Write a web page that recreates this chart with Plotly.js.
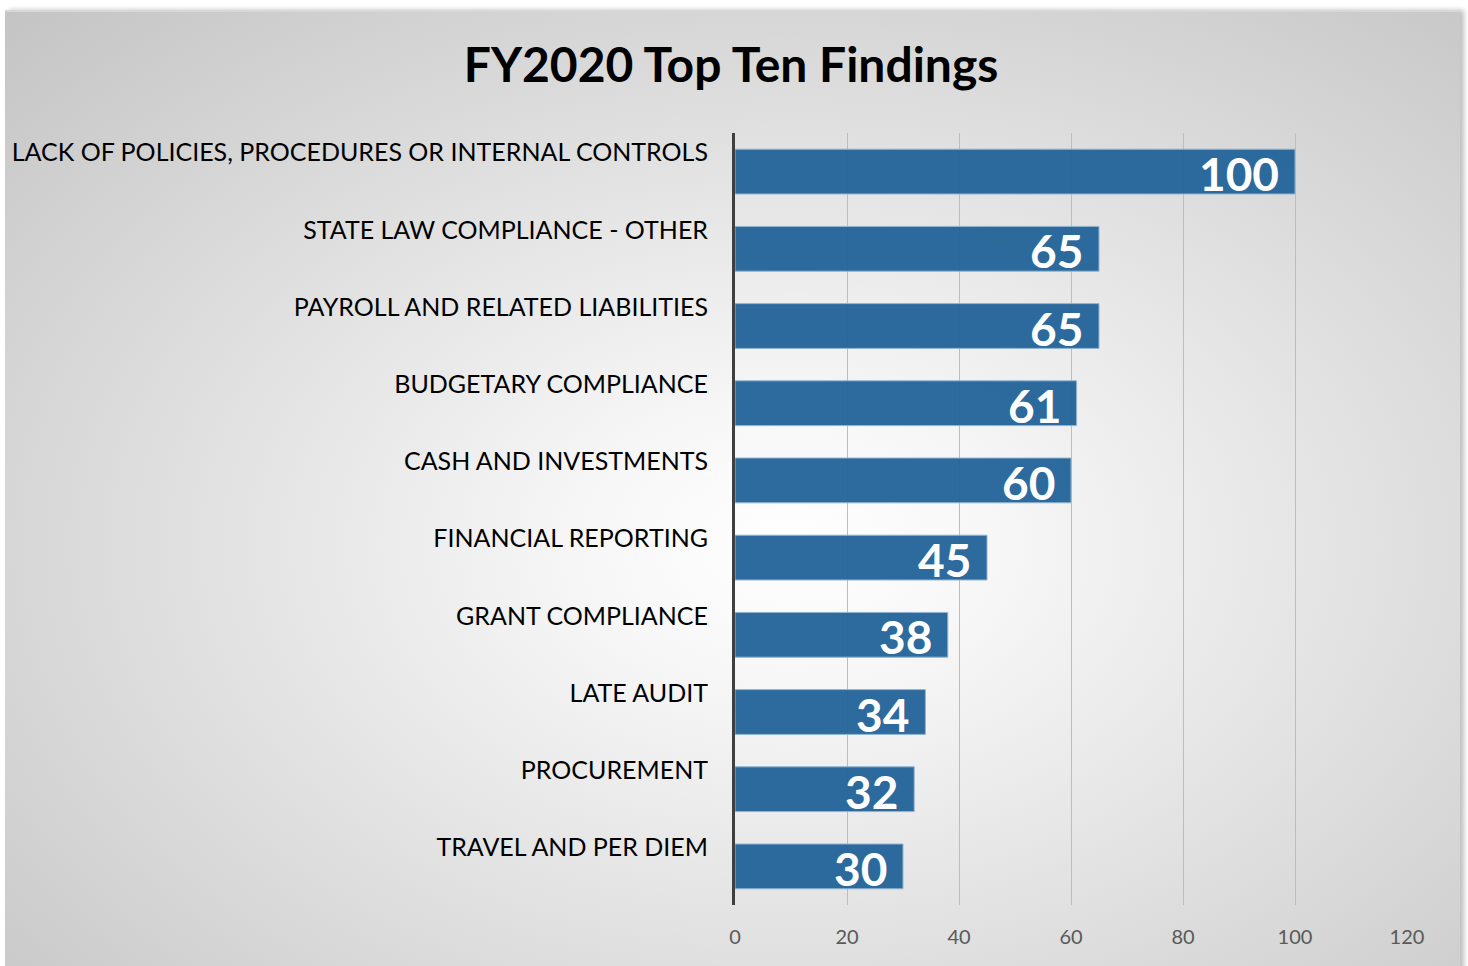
<!DOCTYPE html>
<html>
<head>
<meta charset="utf-8">
<script src="https://cdn.plot.ly/plotly-3.0.1.min.js"></script>
<style>
  html, body { margin: 0; padding: 0; background: #ffffff; }
  #wrap { position: relative; width: 1468px; height: 966px; overflow: hidden; }
  #bg {
    position: absolute; left: 5px; top: 10px; width: 1455px; height: 970px;
    background: radial-gradient(ellipse farthest-corner at 54% 55%, #ffffff 0%, #f7f7f7 18%, #c4c4c4 100%);
    border-top: 2px solid #d8d8d8;
    box-shadow: 4px 0px 5px rgba(0,0,0,0.25);
  }
  #chart { position: absolute; left: 0; top: 0; width: 1468px; height: 966px; }
</style>
</head>
<body>
<div id="wrap">
  <div id="bg"></div>
  <div id="chart"></div>
</div>
<script>
var categories = [
  'LACK OF POLICIES, PROCEDURES OR INTERNAL CONTROLS',
  'STATE LAW COMPLIANCE - OTHER',
  'PAYROLL AND RELATED LIABILITIES',
  'BUDGETARY COMPLIANCE',
  'CASH AND INVESTMENTS',
  'FINANCIAL REPORTING',
  'GRANT COMPLIANCE',
  'LATE AUDIT',
  'PROCUREMENT',
  'TRAVEL AND PER DIEM'
]
var findings = [100, 65, 65, 61, 60, 45, 38, 34, 32, 30]
var tickValues = [0, 20, 40, 60, 80, 100, 120]

var barColor = '#25659a'

var trace = {
  type: 'bar',
  orientation: 'h',
  x: findings,
  y: categories,
  marker: { color: barColor, opacity: 0.96, line: { color: '#8fb4d0', width: 1 } },
  hoverinfo: 'x+y'
}

// value labels sit at the end of each bar
var valueLabels = []
for (var i = 0; i < categories.length; i++) {
  valueLabels.push({
    x: findings[i], y: categories[i], xref: 'x', yref: 'y',
    text: String(findings[i]), showarrow: false,
    xanchor: 'right', yanchor: 'middle', xshift: -14, yshift: -2,
    font: { family: 'Lato', size: 46, color: '#ffffff', weight: 'bold' }
  })
}

var layout = {
  width: 1468, height: 966,
  paper_bgcolor: 'rgba(0,0,0,0)',
  plot_bgcolor: 'rgba(0,0,0,0)',
  margin: { l: 735, r: 61, t: 133, b: 61 },
  showlegend: false,
  bargap: 0.42,
  title: {
    text: '<b>FY2020 Top Ten Findings</b>',
    x: 0.498, xanchor: 'center', y: 0.932, yanchor: 'middle',
    font: { family: 'Lato', size: 48, color: '#000000' }
  },
  xaxis: {
    range: [0, 120],
    tickvals: tickValues,
    showgrid: true, gridcolor: '#bdbdbd', gridwidth: 1,
    zeroline: false, showline: false, ticks: '',
    ticklabelstandoff: 18,
    tickfont: { family: 'Lato', size: 20, color: '#595959' }
  },
  yaxis: {
    autorange: 'reversed',
    showline: true, linecolor: '#3f3f3f', linewidth: 3,
    showgrid: false, zeroline: false, ticks: '',
    ticklabelstandoff: 19,
    ticklabelshift: 19,
    tickfont: { family: 'Lato', size: 25, color: '#000000' }
  },
  annotations: valueLabels
}

Plotly.newPlot('chart', [trace], layout, { displayModeBar: false })
</script>
</body>
</html>
